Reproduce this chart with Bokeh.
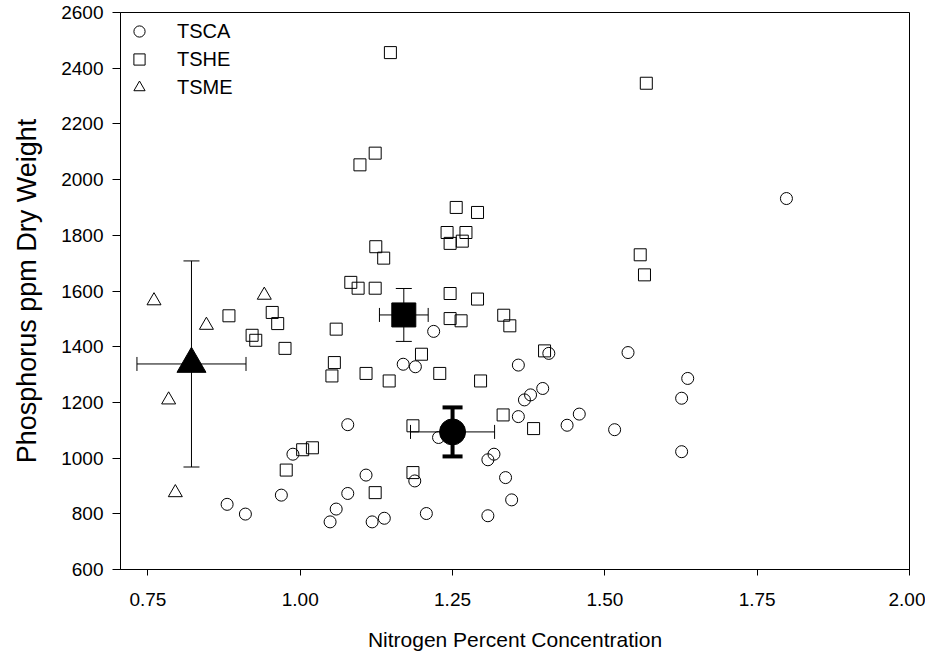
from bokeh.plotting import figure
from bokeh.models import (ColumnDataSource, Whisker, TeeHead, FixedTicker,
                          NumeralTickFormatter, Range1d, Legend, LegendItem)
from bokeh.embed import file_html
from bokeh.resources import INLINE

# ---- data ----
tsca_n = [1.219, 1.169, 1.189, 1.358, 1.408, 1.368, 1.378, 1.398, 1.358, 1.458,
          1.438, 1.516, 1.078, 1.227, 1.318, 1.308, 1.337, 1.347, 1.308, 1.207,
          1.188, 1.108, 1.078, 1.059, 1.049, 1.118, 1.138, 0.988, 0.880, 0.910,
          0.969, 1.538, 1.636, 1.626, 1.626, 1.798]
tsca_p = [1455, 1337, 1328, 1334, 1376, 1209, 1227, 1250, 1149, 1158,
          1118, 1102, 1120, 1074, 1014, 994, 930, 850, 793, 801,
          918, 939, 873, 817, 771, 771, 784, 1014, 834, 799,
          867, 1379, 1286, 1215, 1023, 1932]

tshe_n = [1.148, 1.123, 1.098, 1.256, 1.291, 1.241, 1.272, 1.246, 1.266, 1.124,
          1.137, 1.083, 1.095, 1.123, 1.246, 1.291, 1.246, 1.264, 1.334, 1.344,
          1.059, 1.056, 1.052, 1.108, 1.146, 1.199, 1.229, 1.296, 1.401, 1.333,
          1.383, 1.185, 1.185, 1.123, 1.004, 1.020, 0.977, 0.883, 0.954, 0.963,
          0.921, 0.927, 0.975, 1.568, 1.558, 1.565]
tshe_p = [2456, 2095, 2053, 1900, 1882, 1810, 1810, 1771, 1779, 1759,
          1718, 1631, 1610, 1610, 1591, 1571, 1501, 1493, 1513, 1475,
          1463, 1343, 1295, 1304, 1277, 1373, 1304, 1277, 1385, 1155,
          1106, 1116, 948, 876, 1030, 1037, 957, 1511, 1523, 1483,
          1441, 1423, 1394, 2346, 1730, 1658]

tsme_n = [0.760, 0.846, 0.941, 0.784, 0.795]
tsme_p = [1565, 1477, 1585, 1209, 876]

# group means and error bar half-widths: TSCA, TSHE, TSME
mean_n = [1.250, 1.170, 0.8215]
mean_p = [1094, 1514, 1338]
err_n = [0.069, 0.040, 0.0895]
err_p = [88, 95, 370]

x_ticks = [0.75, 1.00, 1.25, 1.50, 1.75, 2.00]
y_ticks = [600, 800, 1000, 1200, 1400, 1600, 1800, 2000, 2200, 2400, 2600]

FONT = "Liberation Sans"

p = figure(width=925, height=655, output_backend="svg", toolbar_location=None,
           x_range=Range1d(0.705, 2.00), y_range=Range1d(600, 2600),
           min_border_left=120, min_border_top=12, min_border_right=16,
           min_border_bottom=86)
p.background_fill_color = "white"
p.border_fill_color = "white"
p.xgrid.visible = False
p.ygrid.visible = False
p.outline_line_color = "black"
p.outline_line_width = 1

for ax in (p.xaxis[0], p.yaxis[0]):
    ax.axis_line_color = "black"
    ax.axis_line_width = 1
    ax.major_tick_in = 0
    ax.minor_tick_in = 0
    ax.minor_tick_out = 0
    ax.major_tick_line_color = "black"
    ax.major_label_text_font = FONT
    ax.major_label_text_font_size = "19px"
    ax.major_label_text_color = "black"
    ax.axis_label_text_font = FONT
    ax.axis_label_text_font_style = "normal"
    ax.axis_label_text_color = "black"

p.xaxis.ticker = FixedTicker(ticks=x_ticks)
p.xaxis.formatter = NumeralTickFormatter(format="0.00")
p.xaxis.major_tick_out = 6
p.xaxis.major_label_standoff = 17
p.xaxis.axis_label = "Nitrogen Percent Concentration"
p.xaxis.axis_label_text_font_size = "21px"
p.xaxis.axis_label_standoff = 19

p.yaxis.ticker = FixedTicker(ticks=y_ticks)
p.yaxis.major_tick_out = 8
p.yaxis.major_label_standoff = 9
p.yaxis.axis_label = "Phosphorus ppm Dry Weight"
p.yaxis.axis_label_text_font_size = "27px"
p.yaxis.axis_label_standoff = 16

# ---- error bars ----
err_src = ColumnDataSource(dict(
    x=mean_n, y=mean_p,
    xl=[a - b for a, b in zip(mean_n, err_n)], xu=[a + b for a, b in zip(mean_n, err_n)],
    yl=[a - b for a, b in zip(mean_p, err_p)], yu=[a + b for a, b in zip(mean_p, err_p)],
))

def sub(idx):
    return ColumnDataSource({k: [v[i] for i in idx] for k, v in err_src.data.items()})

# thin horizontal bars for all groups
hsrc = sub([0, 1, 2])
p.add_layout(Whisker(source=hsrc, base="y", lower="xl", upper="xu", dimension="width",
                     line_color="black", line_width=1, level="glyph",
                     lower_head=TeeHead(size=14, line_width=1, line_color="black"),
                     upper_head=TeeHead(size=14, line_width=1, line_color="black")))
# thin vertical bars for TSHE and TSME
vsrc = sub([1, 2])
p.add_layout(Whisker(source=vsrc, base="x", lower="yl", upper="yu", dimension="height",
                     line_color="black", line_width=1, level="glyph",
                     lower_head=TeeHead(size=16, line_width=1, line_color="black"),
                     upper_head=TeeHead(size=16, line_width=1, line_color="black")))
# thick vertical bar for TSCA
csrc = sub([0])
p.add_layout(Whisker(source=csrc, base="x", lower="yl", upper="yu", dimension="height",
                     line_color="black", line_width=4, level="glyph",
                     lower_head=TeeHead(size=20, line_width=4, line_color="black"),
                     upper_head=TeeHead(size=20, line_width=4, line_color="black")))

# ---- individual points ----
r_ca = p.scatter(tsca_n, tsca_p, marker="circle", size=12, fill_color=None,
                 line_color="black", line_width=1)
r_he = p.scatter(tshe_n, tshe_p, marker="square", size=12, fill_color=None,
                 line_color="black", line_width=1)
r_me = p.scatter(tsme_n, tsme_p, marker="triangle", size=14, fill_color=None,
                 line_color="black", line_width=1)

# ---- group means ----
p.scatter(mean_n[0:1], mean_p[0:1], marker="circle", size=26, fill_color="black", line_color="black")
p.scatter(mean_n[1:2], mean_p[1:2], marker="square", size=24, fill_color="black", line_color="black")
p.scatter(mean_n[2:3], mean_p[2:3], marker="triangle", size=29, fill_color="black", line_color="black")

legend = Legend(items=[LegendItem(label="TSCA", renderers=[r_ca]),
                       LegendItem(label="TSHE", renderers=[r_he]),
                       LegendItem(label="TSME", renderers=[r_me])],
                location="top_left")
legend.background_fill_alpha = 0
legend.border_line_alpha = 0
legend.label_text_font = FONT
legend.label_text_font_size = "20px"
legend.label_text_color = "black"
legend.glyph_width = 28
legend.glyph_height = 28
legend.label_height = 20
legend.label_standoff = 24
legend.spacing = 0
legend.margin = 2
legend.padding = 3
p.add_layout(legend)

open("out.html", "w").write(file_html(p, INLINE))
